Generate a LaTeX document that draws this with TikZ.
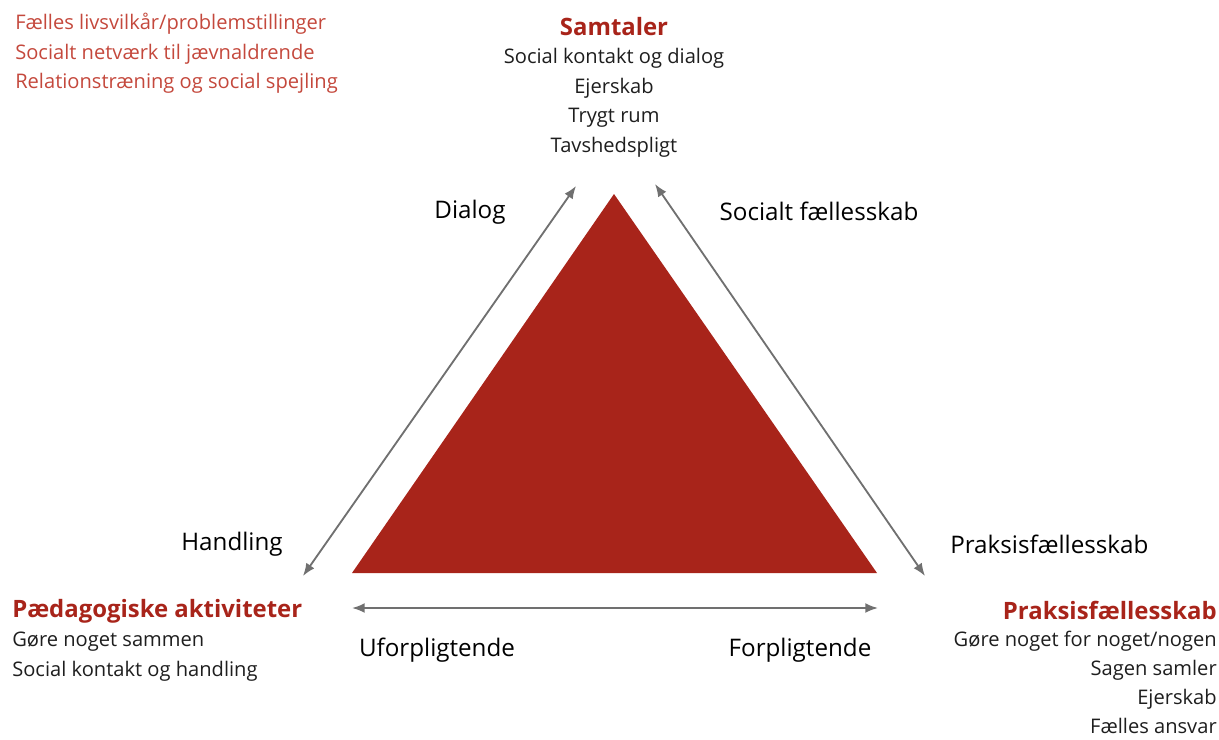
\documentclass[tikz,border=0pt]{standalone}
\usepackage{fontspec}
\setmainfont{Open Sans}
\usetikzlibrary{calc,arrows.meta}
\definecolor{darkred}{HTML}{A8241A}
\definecolor{lightred}{HTML}{C4483C}
\definecolor{arrowgray}{HTML}{707070}
\definecolor{textgray}{HTML}{1E1E1E}
\tikzset{>={Latex[length=9pt,width=7pt]}}
\tikzset{
  listtext/.style={inner sep=0pt, text=textgray, font=\fontsize{14.3}{21}\selectfont},
  headtext/.style={inner sep=0pt, text=darkred, font=\fontsize{17}{21}\selectfont\bfseries},
  sidetext/.style={inner sep=0pt, text=black, font=\fontsize{17.2}{20}\selectfont},
  conn/.style={<->, arrowgray, line width=1.3pt}
}

\begin{document}
\begin{tikzpicture}[x=0.025cm,y=-0.025cm]
  \useasboundingbox (0,0) rectangle (1219,739);

  \node[coordinate] (apex) at (614,194) {};
  \node[coordinate] (base_l) at (352,573) {};
  \node[coordinate] (base_r) at (877,573) {};

  \node[coordinate] (dia_top) at (576,186) {};
  \node[coordinate] (dia_bot) at (303,576) {};
  \node[coordinate] (soc_top) at (655,184) {};
  \node[coordinate] (soc_bot) at (925,576) {};
  \node[coordinate] (for_l) at (352,608) {};
  \node[coordinate] (for_r) at (878,608) {};

  % triangle
  \fill[darkred] (apex) -- (base_l) -- (base_r) -- cycle;

  % arrows
  \draw[conn] (dia_top) -- (dia_bot);
  \draw[conn] (soc_top) -- (soc_bot);
  \draw[conn] (for_l) -- (for_r);

  % top left notes
  \node[listtext, text=lightred, anchor=north west, align=left] (notes) at (15,13)
    {Fælles livsvilkår/problemstillinger\\Socialt netværk til jævnaldrende\\Relationstræning og social spejling};

  % top
  \node[headtext] (samtaler) at (614,27) {Samtaler};
  \node[listtext, anchor=north, align=center] (samtaler_list) at (614,48)
    {Social kontakt og dialog\\Ejerskab\\Trygt rum\\Tavshedspligt};

  % bottom left
  \node[headtext, anchor=west] (paed) at (12,611) {Pædagogiske aktiviteter};
  \node[listtext, anchor=north west, align=left] (paed_list) at (12,632)
    {Gøre noget sammen\\Social kontakt og handling};

  % bottom right
  \node[headtext, anchor=east] (praksis) at (1217,610) {Praksisfællesskab};
  \node[listtext, anchor=north east, align=right, font=\fontsize{14.3}{20.6}\selectfont] (praksis_list) at (1217,631)
    {Gøre noget for noget/nogen\\Sagen samler\\Ejerskab\\Fælles ansvar};

  % side labels
  \node[sidetext] (dialog) at (470,212) {Dialog};
  \node[sidetext] (socialt) at (819,211) {Socialt fællesskab};
  \node[sidetext] (handling) at (232,544) {Handling};
  \node[sidetext, anchor=west] (praksis_lbl) at (950,544) {Praksisfællesskab};
  \node[sidetext] (ufor) at (437,650) {Uforpligtende};
  \node[sidetext] (for) at (800,650) {Forpligtende};

\end{tikzpicture}
\end{document}
